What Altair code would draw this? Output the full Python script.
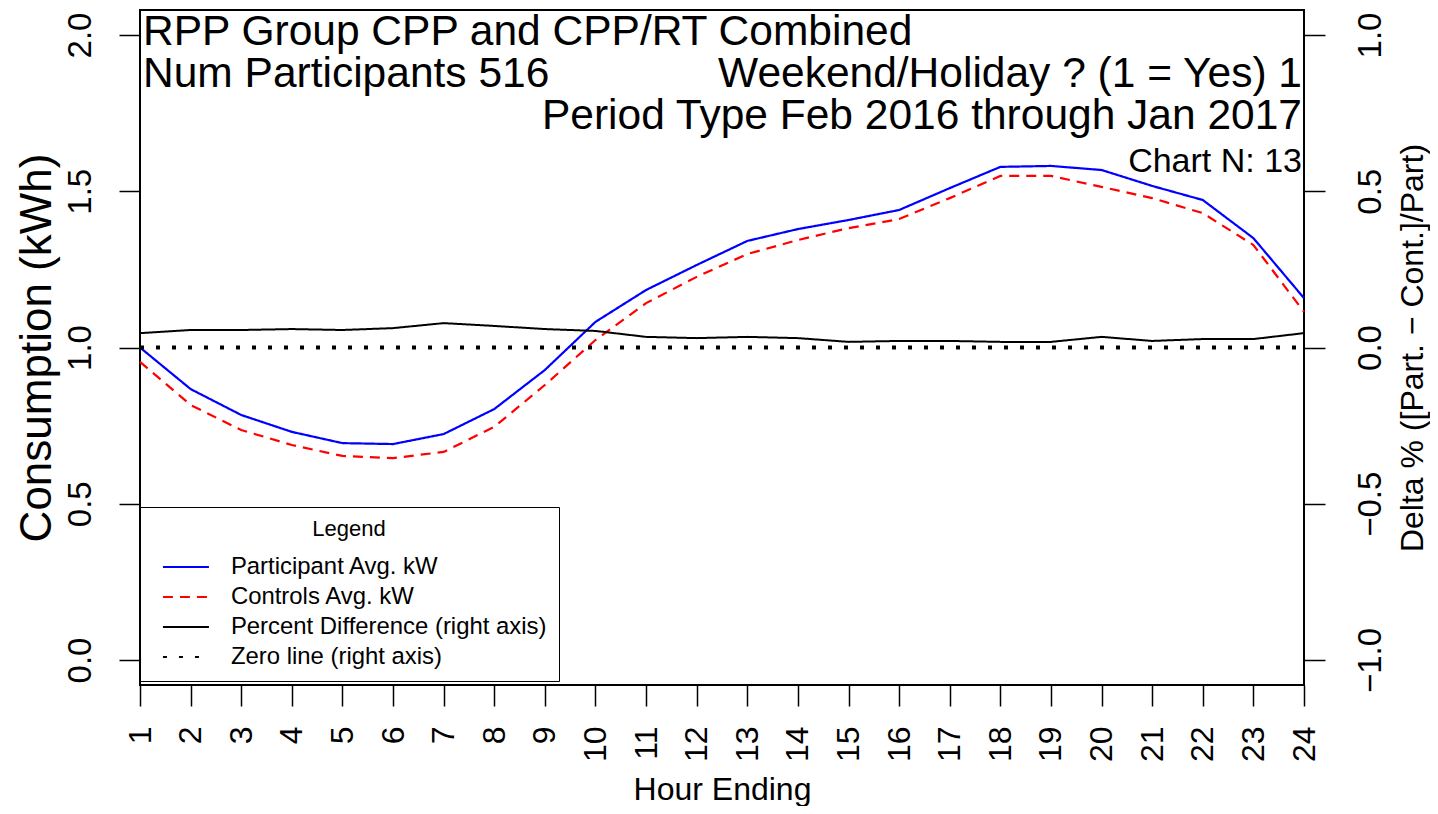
import altair as alt
import pandas as pd

hours = list(range(1, 25))
participant = [1.000, 0.867, 0.784, 0.730, 0.694, 0.691, 0.723, 0.803, 0.928, 1.082,
               1.184, 1.264, 1.341, 1.379, 1.408, 1.440, 1.510, 1.578, 1.581, 1.568,
               1.517, 1.472, 1.350, 1.158]
controls = [0.954, 0.816, 0.736, 0.688, 0.653, 0.646, 0.666, 0.746, 0.880, 1.024,
            1.142, 1.226, 1.299, 1.344, 1.382, 1.411, 1.478, 1.549, 1.549, 1.514,
            1.478, 1.430, 1.328, 1.114]
pct_diff = [0.046, 0.056, 0.056, 0.059, 0.056, 0.062, 0.078, 0.069, 0.059, 0.053,
            0.034, 0.030, 0.034, 0.030, 0.018, 0.021, 0.021, 0.018, 0.018, 0.034,
            0.021, 0.027, 0.027, 0.046]
zero_line = [0.0] * 24

series_names = ["Participant Avg. kW", "Controls Avg. kW",
                "Percent Difference (right axis)", "Zero line (right axis)"]
series_colors = ["#0000FF", "#FF0000", "#000000", "#000000"]
series_dash = [[1, 0], [10, 7], [1, 0], [4, 12]]

left_ticks = [0, 0.5, 1.0, 1.5, 2.0]
right_ticks = [-1.0, -0.5, 0.0, 0.5, 1.0]

header_left = ["RPP Group CPP and CPP/RT Combined", "Num Participants 516"]
header_right = ["Weekend/Holiday ? (1 = Yes) 1", "Period Type Feb 2016 through Jan 2017"]
chart_n = ["Chart N: 13"]

left_df = pd.DataFrame({
    "hour": hours * 2,
    "value": participant + controls,
    "series": [series_names[0]] * 24 + [series_names[1]] * 24,
})
pct_df = pd.DataFrame({"hour": hours, "value": pct_diff, "series": [series_names[2]] * 24})
zero_df = pd.DataFrame({"hour": hours, "value": zero_line, "series": [series_names[3]] * 24})

FONT = "Liberation Sans"

legend = alt.Legend(
    title="Legend", orient="none", legendX=0, legendY=497,
    strokeColor="black", fillColor="white", padding=12,
    symbolType="M-3,0H3", symbolSize=235, symbolStrokeWidth=2,
    symbolOffset=22, labelOffset=33, labelFontSize=23.9, labelFont=FONT,
    labelLimit=600,
    titleFontSize=22, titleFontWeight="normal", titleFont=FONT,
    titleAnchor="middle", titlePadding=14, rowPadding=5,
    labelColor="black", titleColor="black",
)

color = alt.Color("series:N", scale=alt.Scale(domain=series_names, range=series_colors), legend=legend)
dash = alt.StrokeDash("series:N", scale=alt.Scale(domain=series_names, range=series_dash), legend=legend)

x_enc = alt.X(
    "hour:Q",
    scale=alt.Scale(domain=[1, 24], nice=False, zero=False),
    axis=alt.Axis(
        values=hours, title="Hour Ending", labelAngle=-90, labelAlign="right",
        labelBaseline="middle", labelPadding=20, tickSize=21, labelFontSize=32,
        labelFlush=False, labelOverlap=False, labelBound=False, domain=False,
        titleFontSize=32, titleFontWeight="normal", titleX=582, titleY=114,
        titleBaseline="alphabetic", titleAlign="center", grid=False,
        tickColor="black", labelColor="black", titleColor="black", tickWidth=1.5,
    ),
)

left = alt.Chart(left_df).mark_line(strokeWidth=2.2).encode(
    x=x_enc,
    y=alt.Y(
        "value:Q",
        scale=alt.Scale(domain=[-0.08, 2.08], nice=False, zero=False),
        axis=alt.Axis(
            values=left_ticks, format=".1f", title="Consumption (kWh)",
            labelAngle=-90, labelAlign="center", labelBaseline="alphabetic",
            labelPadding=29, tickSize=21, labelFontSize=33, domain=False, grid=False,
            titleFontSize=44, titleFontWeight="normal", titleAngle=-90,
            titleX=-90, titleY=337.5, titleAlign="center", titleBaseline="alphabetic",
            tickColor="black", labelColor="black", titleColor="black", tickWidth=1.5,
        ),
    ),
    color=color,
    strokeDash=dash,
)

right_y = alt.Y(
    "value:Q",
    scale=alt.Scale(domain=[-1.08, 1.08], nice=False, zero=False),
    axis=alt.Axis(
        orient="right", values=right_ticks, format=".1f",
        title="Delta % ([Part. \u2212 Cont.]/Part)",
        labelAngle=-90, labelAlign="center", labelBaseline="top",
        labelPadding=29, tickSize=21, labelFontSize=33, domain=False, grid=False,
        titleFontSize=32, titleFontWeight="normal", titleAngle=-90,
        titleX=118, titleY=337.5, titleAlign="center", titleBaseline="alphabetic",
        tickColor="black", labelColor="black", titleColor="black", tickWidth=1.5,
    ),
)

pct = alt.Chart(pct_df).mark_line(strokeWidth=2.0).encode(
    x=x_enc, y=right_y, color=color, strokeDash=dash,
)
zero = alt.Chart(zero_df).mark_line(strokeWidth=4.0, strokeCap="butt").encode(
    x=x_enc, y=right_y, color=color, strokeDash=dash,
)
right = alt.layer(pct, zero)


def text_layer(texts, x, ys, align, size):
    df = pd.DataFrame({"t": texts, "yy": ys})
    return alt.Chart(df).mark_text(
        align=align, baseline="alphabetic", fontSize=size, font=FONT, color="black"
    ).encode(text="t:N", x=alt.value(x), y=alt.Y("yy:Q", scale=None))


t_left = text_layer(header_left, 3, [35, 77], "left", 42.5)
t_right = text_layer(header_right, 1162, [77, 119], "right", 42.5)
t_n = text_layer(chart_n, 1162, [162], "right", 34)

chart = alt.layer(left, right, t_left, t_right, t_n).resolve_scale(
    y="independent"
).properties(
    width=1164, height=675,
    autosize=alt.AutoSizeParams(type="none"),
    padding={"left": 132, "top": 2, "right": 126, "bottom": 121},
    background="white",
).configure(
    font=FONT
).configure_view(
    stroke="black", strokeWidth=2
)

chart.save("out.html", embed_options={"renderer": "svg", "actions": False})
